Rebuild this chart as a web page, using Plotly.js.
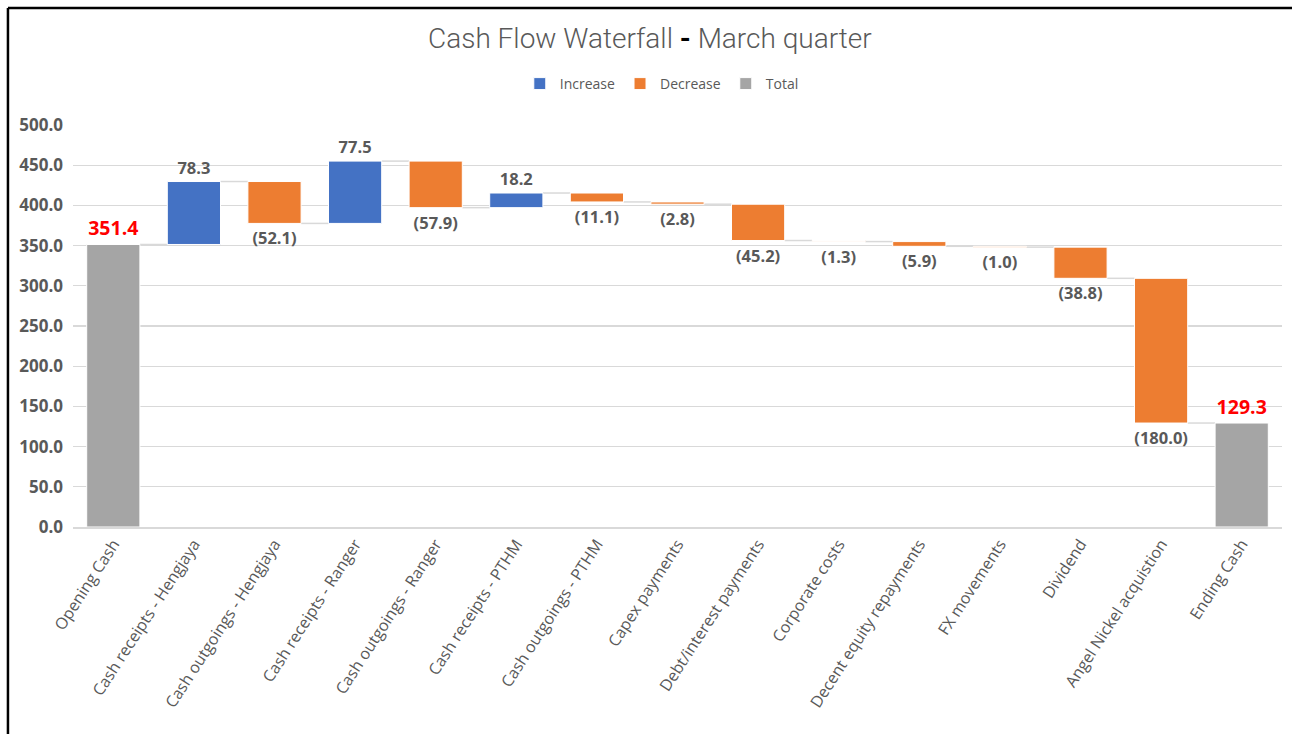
<!DOCTYPE html>
<html>
<head>
<meta charset="utf-8">
<script src="https://cdn.plot.ly/plotly-3.0.1.min.js"></script>
<style>html,body{margin:0;padding:0;background:#fff;}#chart{width:1292px;height:734px;}</style>
</head>
<body>
<div id="chart"></div>
<script>
const categories = ["Opening Cash","Cash receipts - Hengjaya","Cash outgoings - Hengjaya","Cash receipts - Ranger","Cash outgoings - Ranger","Cash receipts - PTHM","Cash outgoings - PTHM","Capex payments","Debt/interest payments","Corporate costs","Decent equity repayments","FX movements","Dividend","Angel Nickel acquistion","Ending Cash"];
const changes = [351.4, 78.3, -52.1, 77.5, -57.9, 18.2, -11.1, -2.8, -45.2, -1.3, -5.9, -1.0, -38.8, -180.0, 129.3];
const kinds = ["total","inc","dec","inc","dec","inc","dec","dec","dec","dec","dec","dec","dec","dec","total"];
const yTickVals = [0,50,100,150,200,250,300,350,400,450,500];

// running levels
const levelsAfter = [];
const bases = [];
let level = 0;
for (let i = 0; i < changes.length; i++) {
  if (kinds[i] === "total") { bases.push(0); level = changes[i]; }
  else { bases.push(level); level = level + changes[i]; }
  levelsAfter.push(level);
}

function mk(kind, name, color, fontColor, fontSize) {
  const x = [], y = [], b = [], t = [];
  for (let i = 0; i < categories.length; i++) {
    if (kinds[i] !== kind) continue;
    x.push(categories[i]); y.push(changes[i]); b.push(bases[i]);
    const v = Math.abs(changes[i]).toFixed(1);
    t.push(kind === "dec" ? "(" + v + ")" : v);
  }
  return {
    type: "bar", name: name, x: x, y: y, base: b, text: t,
    textposition: "outside", constraintext: "none", cliponaxis: false,
    texttemplate: "<b>%{text}</b>",
    textfont: {family: "Open Sans, sans-serif", size: fontSize, color: fontColor},
    marker: {color: color, line: {color: "#ffffff", width: 1}},
    hoverinfo: "x+y"
  };
}

const traces = [
  mk("inc", "Increase", "#4472C4", "#595959", 16.5),
  mk("dec", "Decrease", "#ED7D31", "#595959", 16.5),
  mk("total", "Total", "#A5A5A5", "#FF0000", 19.5)
];

const shapes = [];
for (let i = 0; i < categories.length - 1; i++) {
  shapes.push({type: "line", xref: "x", yref: "y", x0: i + 0.33, x1: i + 0.67,
    y0: levelsAfter[i], y1: levelsAfter[i], line: {color: "#D9D9D9", width: 1.5}, layer: "below"});
}
// outer frame (left + top)
shapes.push({type: "line", xref: "paper", yref: "paper", x0: -0.0538, x1: 1.01, y0: 1.291, y1: 1.291, line: {color: "#000", width: 2.5}});
shapes.push({type: "line", xref: "paper", yref: "paper", x0: -0.0538, x1: -0.0538, y0: 1.291, y1: -0.52, line: {color: "#000", width: 2.5}});

const layout = {
  width: 1292, height: 734,
  margin: {l: 73, r: 10, t: 125, b: 207},
  paper_bgcolor: "#fff", plot_bgcolor: "#fff",
  barmode: "overlay", bargap: 0.34,
  title: {text: 'Cash Flow Waterfall <span style="color:#000"><b>-</b></span> March quarter',
    font: {family: "Roboto, sans-serif", weight: 300, size: 28, color: "#595959"},
    x: 0.503, xanchor: "center", y: 0.948, yanchor: "middle", yref: "container"},
  showlegend: true,
  legend: {orientation: "h", x: 0.487, xanchor: "center", y: 1.102, yanchor: "middle",
    font: {family: "Open Sans, sans-serif", size: 14, color: "#595959"}, traceorder: "normal", itemwidth: 30},
  xaxis: {type: "category", categoryarray: categories, categoryorder: "array",
    tickangle: -57, tickfont: {family: "Open Sans, sans-serif", size: 16, color: "#595959"},
    showgrid: false, showline: true, linecolor: "#D9D9D9", linewidth: 1.5, ticks: "", fixedrange: true},
  yaxis: {range: [0, 500], tickvals: yTickVals, tickformat: ".1f",
    tickfont: {family: "Open Sans, sans-serif", size: 17, color: "#595959", weight: "bold"},
    showgrid: true, gridcolor: "#D9D9D9", gridwidth: 1.2, zeroline: false, showline: false,
    ticks: "", ticklabelstandoff: 9, fixedrange: true},
  shapes: shapes
};

Plotly.newPlot("chart", traces, layout, {displayModeBar: false, staticPlot: true});
</script>
</body>
</html>
